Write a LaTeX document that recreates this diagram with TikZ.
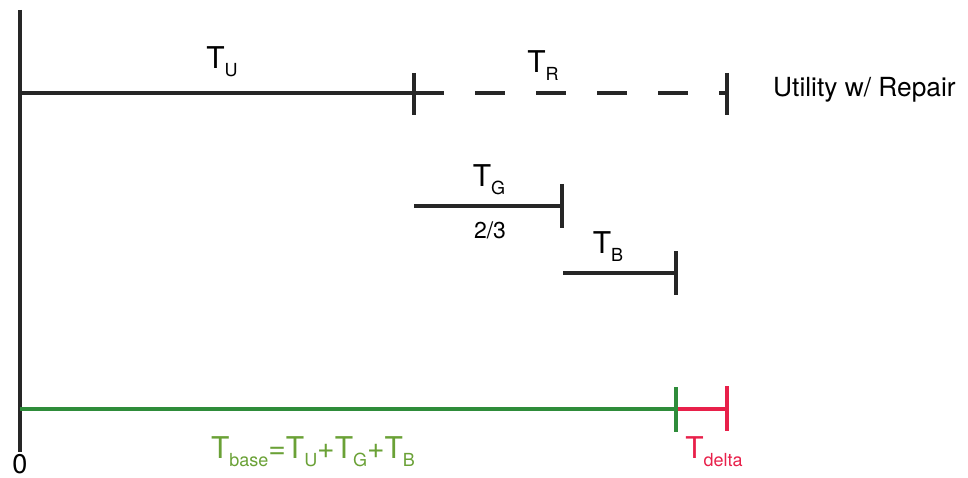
\documentclass[tikz,border=0pt]{standalone}
\usepackage{fontspec}
\setmainfont{TeX Gyre Heros}
\definecolor{lgreen}{RGB}{46,140,58}
\definecolor{tgreen}{RGB}{106,161,54}
\definecolor{lred}{RGB}{232,32,74}
\newcommand{\Tsb}[1]{{\fontsize{30}{30}\selectfont T}\raisebox{-8pt}{\fontsize{18}{18}\selectfont #1}}
\newcommand{\Tsm}{\fontsize{30}{30}\selectfont}
\newcommand{\Ssm}[1]{\raisebox{-8pt}{\fontsize{18}{18}\selectfont #1}}
\tikzset{
  seg/.style={line width=3.1pt, black!85},
  lbl/.style={inner sep=0pt, anchor=base},
}
\begin{document}
\begin{tikzpicture}[x=1pt,y=-1pt]
\useasboundingbox (0,0) rectangle (968,478);
% coordinates
\coordinate (axT) at (20,10);
\coordinate (axB) at (20,452);
\coordinate (u0) at (20,93);
\coordinate (u1) at (414,93);
\coordinate (u1t) at (414,73);
\coordinate (u1b) at (414,115);
\coordinate (r1) at (727,93);
\coordinate (r1t) at (727,73);
\coordinate (r1b) at (727,115);
\coordinate (g0) at (414,206);
\coordinate (g1) at (562,206);
\coordinate (g1t) at (562,184);
\coordinate (g1b) at (562,228);
\coordinate (b0) at (563,273);
\coordinate (b1) at (676,273);
\coordinate (b1t) at (676,251);
\coordinate (b1b) at (676,295);
\coordinate (s0) at (20,409);
\coordinate (s1) at (676,409);
\coordinate (s1t) at (676,387);
\coordinate (s1b) at (676,432);
\coordinate (d1) at (727,409);
\coordinate (d1t) at (727,386);
\coordinate (d1b) at (727,431);
% axis
\draw[seg] (axT) -- (axB);
% utility
\draw[seg] (u0) -- (u1);
\draw[seg] (u1t) -- (u1b);
\draw[seg, dash pattern=on 30pt off 31pt] (u1) -- (r1);
\draw[seg] (r1t) -- (r1b);
% T_G
\draw[seg] (g0) -- (g1);
\draw[seg] (g1t) -- (g1b);
% T_B
\draw[seg] (b0) -- (b1);
\draw[seg] (b1t) -- (b1b);
% base
\draw[line width=3.1pt, lgreen] (s0) -- (s1);
\draw[line width=3.1pt, lred] (s1) -- (d1);
\draw[line width=3.1pt, lgreen] (s1t) -- (s1b);
\draw[line width=3.1pt, lred] (d1t) -- (d1b);
% labels
\node[lbl] (tu) at (222,69) {\Tsb{U}};
\node[lbl] (tr) at (543,73) {\Tsb{R}};
\node[lbl, anchor=base west] (util) at (773,97) {\fontsize{26.3}{26.3}\selectfont Utility w/ Repair};
\node[lbl] (tg) at (489,187) {\Tsb{G}};
\node[lbl] (frac) at (490,238) {\fontsize{23}{23}\selectfont 2/3};
\node[lbl] (tb) at (608,254) {\Tsb{B}};
\node[lbl] (zero) at (20,473) {\fontsize{27}{27}\selectfont 0};
\node[lbl, text=tgreen] (tbase) at (313,458) {\Tsm T\Ssm{base}\Tsm =T\Ssm{U}\Tsm +T\Ssm{G}\Tsm +T\Ssm{B}};
\node[lbl, text=lred] (tdelta) at (714,458) {\Tsm T\Ssm{delta}};
\end{tikzpicture}
\end{document}
